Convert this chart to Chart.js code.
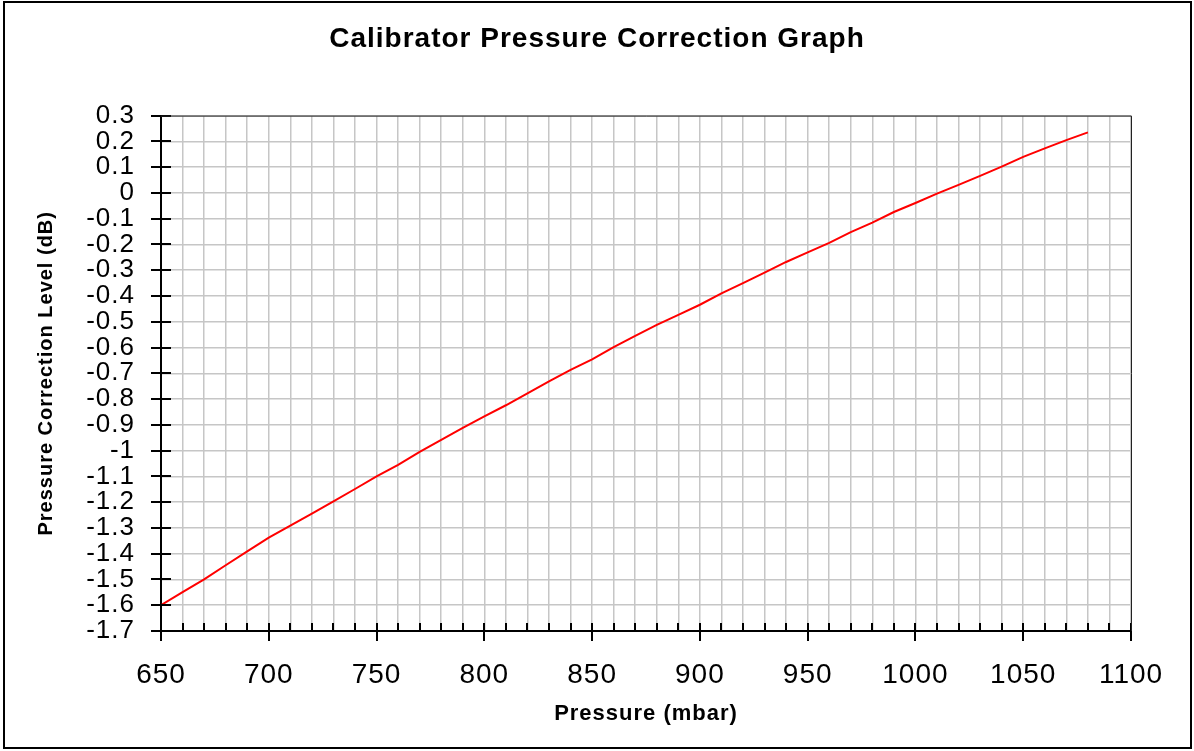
<!DOCTYPE html>
<html>
<head>
<meta charset="utf-8">
<title>Calibrator Pressure Correction Graph</title>
<script src="https://cdn.jsdelivr.net/npm/chart.js@4"></script>
<style>
  body { margin: 0; background: #fff; }
  #wrap { width: 1194px; height: 751px; }
</style>
</head>
<body>
<div id="wrap"><canvas id="graph_pressure"></canvas></div>
<script>
/*------------------------------*/
/*   CALIBRATOR PRESSURE GRAPH  */
/*------------------------------*/
var pressure = [650, 660, 670, 680, 690, 700, 710, 720, 730, 740,
                750, 760, 770, 780, 790, 800, 810, 820, 830, 840,
                850, 860, 870, 880, 890, 900, 910, 920, 930, 940,
                950, 960, 970, 980, 990, 1000, 1010, 1020, 1030, 1040,
                1050, 1060, 1070, 1080]
var correction = [-1.600, -1.549, -1.500, -1.445, -1.391, -1.338, -1.291, -1.245, -1.197, -1.149,
                  -1.100, -1.055, -1.005, -0.958, -0.912, -0.867, -0.824, -0.778, -0.731, -0.687,
                  -0.646, -0.598, -0.555, -0.512, -0.473, -0.434, -0.390, -0.350, -0.309, -0.268,
                  -0.231, -0.194, -0.152, -0.115, -0.074, -0.039, -0.003, 0.031, 0.066, 0.102,
                  0.140, 0.173, 0.205, 0.235]
var xMin = 650, xMax = 1100, xMajor = 50, xMinor = 10
var yMin = -1.7, yMax = 0.3, yStep = 0.1

var points = pressure.map(function (p, i) { return {x: p, y: correction[i]} })
var fontName = "'Liberation Sans', Arial, sans-serif"

// the original text is a bit wider than Arial, spread it a little
var spacing = {
  id: 'spacing',
  beforeUpdate: function (chart) { chart.ctx.letterSpacing = '1px' },
  beforeDraw: function (chart) { chart.ctx.letterSpacing = '1px' }
}

// tick marks, plot frame and outer border
var frame = {
  id: 'frame',
  afterDraw: function (chart) {
    var c = chart.ctx, a = chart.chartArea
    var xs = chart.scales.x, ys = chart.scales.y
    c.save()
    c.strokeStyle = '#000'
    c.lineWidth = 2
    for (var v = xMin; v <= xMax; v += xMinor) {
      var px = Math.round(xs.getPixelForValue(v))
      var major = v % xMajor === 0
      c.beginPath()
      c.moveTo(px, a.bottom - 8)
      c.lineTo(px, major ? a.bottom + 10 : a.bottom)
      c.stroke()
    }
    ys.ticks.forEach(function (t) {
      var py = Math.round(ys.getPixelForValue(t.value))
      c.beginPath()
      c.moveTo(a.left - 10, py)
      c.lineTo(a.left + 10, py)
      c.stroke()
    })
    c.strokeStyle = '#222'
    c.lineWidth = 1
    c.beginPath()
    c.moveTo(a.left, a.top + 0.5)
    c.lineTo(a.right + 0.5, a.top + 0.5)
    c.lineTo(a.right + 0.5, a.bottom)
    c.stroke()
    c.strokeStyle = '#000'
    c.lineWidth = 2
    c.strokeRect(4, 2, 1187, 746)
    c.restore()
  }
}

var config_pressure = {
  type: 'line',
  data: {
    datasets: [{
      label: 'Pressure correction',
      data: points,
      borderColor: 'rgb(255, 0, 0)',
      backgroundColor: 'rgb(255, 0, 0)',
      borderWidth: 2,
      pointRadius: 0,
      tension: 0,
      fill: false
    }]
  },
  options: {
    responsive: true,
    maintainAspectRatio: false,
    animation: false,
    layout: { padding: 0 },
    plugins: {
      legend: { display: false },
      tooltip: { enabled: false },
      title: {
        display: true,
        text: 'Calibrator Pressure Correction Graph',
        color: '#000',
        font: { family: fontName, size: 28, weight: 'bold' },
        padding: { top: 22, bottom: 60 }
      }
    },
    scales: {
      x: {
        type: 'linear',
        min: xMin,
        max: xMax,
        afterFit: function (s) { s.height = 120 },
        border: { color: '#000', width: 2 },
        grid: { color: '#c6c6c6', lineWidth: 1.5, drawTicks: false },
        ticks: {
          stepSize: xMinor,
          autoSkip: false,
          maxRotation: 0,
          padding: 27,
          color: '#000',
          font: { family: fontName, size: 28 },
          callback: function (v) { return v % xMajor === 0 ? String(v) : '' }
        },
        title: {
          display: true,
          text: 'Pressure (mbar)',
          color: '#000',
          font: { family: fontName, size: 22, weight: 'bold' },
          padding: { top: 0, bottom: 24 }
        }
      },
      y: {
        type: 'linear',
        min: yMin,
        max: yMax,
        afterFit: function (s) { s.width = 161 },
        border: { color: '#000', width: 2 },
        grid: { color: '#c6c6c6', lineWidth: 1.5, drawTicks: false },
        ticks: {
          stepSize: yStep,
          autoSkip: false,
          padding: 26,
          color: '#000',
          font: { family: fontName, size: 26 },
          callback: function (v) { return String(Number(v.toFixed(1))) }
        },
        title: {
          display: true,
          text: 'Pressure Correction Level (dB)',
          color: '#000',
          font: { family: fontName, size: 20, weight: 'bold' },
          padding: { top: 34, bottom: 0 }
        }
      },
      // empty strip on the right so the plot ends where the original does
      spare: {
        type: 'linear',
        position: 'right',
        min: yMin,
        max: yMax,
        afterFit: function (s) { s.width = 63 },
        border: { display: false },
        grid: { display: false, drawTicks: false },
        ticks: { display: false }
      }
    }
  },
  plugins: [spacing, frame]
}

var ctx_pressure = document.getElementById('graph_pressure').getContext('2d')
var graph_pressure = new Chart(ctx_pressure, config_pressure)
</script>
</body>
</html>
